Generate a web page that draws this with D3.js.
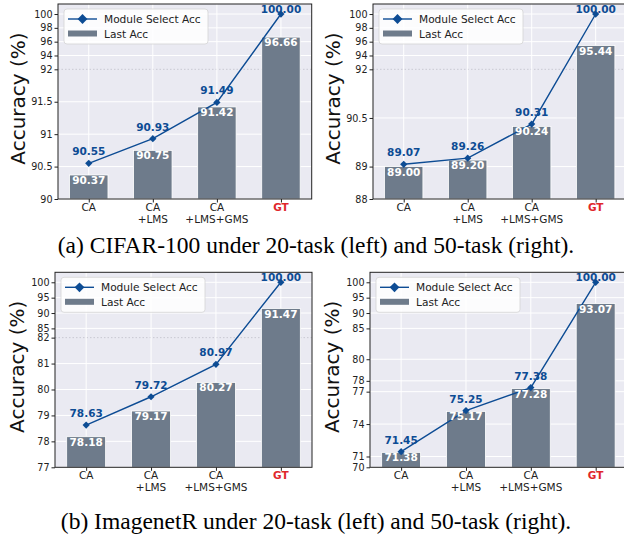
<!DOCTYPE html>
<html>
<head>
<meta charset="utf-8">
<script src="https://cdn.jsdelivr.net/npm/d3@7"></script>
<style>
  body { margin: 0; background: #fff; }
  text { font-family: "DejaVu Sans", sans-serif; }
</style>
</head>
<body>
<svg id="fig" width="624" height="537"></svg>
<script>
// categories shared by every panel
const categories = ["CA", "CA\n+LMS", "CA\n+LMS+GMS", "GT"];

// CIFAR-100, 20-task
const cifar20Select = [90.55, 90.93, 91.49, 100.00];
const cifar20Last = [90.37, 90.75, 91.42, 96.66];
const cifar20Ticks = [90, 90.5, 91, 91.5, 92, 94, 96, 98, 100];

// CIFAR-100, 50-task
const cifar50Select = [89.07, 89.26, 90.31, 100.00];
const cifar50Last = [89.00, 89.20, 90.24, 95.44];
const cifar50Ticks = [88, 89, 90.5, 92, 94, 96, 98, 100];

// ImagenetR, 20-task
const imr20Select = [78.63, 79.72, 80.97, 100.00];
const imr20Last = [78.18, 79.17, 80.27, 91.47];
const imr20Ticks = [77, 78, 79, 80, 81, 82, 85, 90, 95, 100];

// ImagenetR, 50-task
const imr50Select = [71.45, 75.25, 77.38, 100.00];
const imr50Last = [71.38, 75.17, 77.28, 93.07];
const imr50Ticks = [70, 71, 74, 77, 78, 80, 85, 90, 95, 100];

// y axis is split: [lo, brk] gets the lower 2/3, [brk, hi] the top third
const panels = [
  { select: cifar20Select, last: cifar20Last, ticks: cifar20Ticks, domain: [90, 92, 101.45],
    left: 58, right: 311.7, top: 4, bottom: 199, labelX: 18 },
  { select: cifar50Select, last: cifar50Last, ticks: cifar50Ticks, domain: [88, 92, 101.45],
    left: 373, right: 626.4, top: 4, bottom: 199, labelX: 333 },
  { select: imr20Select, last: imr20Last, ticks: imr20Ticks, domain: [77, 82, 103.25],
    left: 55, right: 312, top: 272.3, bottom: 467.3, labelX: 17 },
  { select: imr50Select, last: imr50Last, ticks: imr50Ticks, domain: [70, 82, 103.25],
    left: 370, right: 626.8, top: 272.3, bottom: 467.3, labelX: 332 }
];

const captions = [
  { text: "(a) CIFAR-100 under 20-task (left) and 50-task (right).", y: 253 },
  { text: "(b) ImagenetR under 20-task (left) and 50-task (right).", y: 529 }
];

const BG = "#eaeaf2";
const BAR = "#6e7b8b";
const LINE = "#0d4c94";
const GT_RED = "#e0262b";

const svg = d3.select("#fig");

panels.forEach((p, i) => drawPanel(p, i));

svg.selectAll("text.caption")
  .data(captions)
  .join("text")
  .attr("class", "caption")
  .attr("x", 316)
  .attr("y", d => d.y)
  .attr("text-anchor", "middle")
  .style("font-family", "'Liberation Serif', 'Times New Roman', serif")
  .style("font-size", "23.5px")
  .attr("fill", "#000")
  .text(d => d.text);

function diamond(size) {
  return d3.symbol().type(d3.symbolSquare).size(size)();
}

function drawPanel(p, idx) {
  const g = svg.append("g").attr("class", "panel" + idx);
  const clipId = "clip" + idx;
  g.append("clipPath").attr("id", clipId)
    .append("rect")
    .attr("x", p.left).attr("y", p.top)
    .attr("width", p.right - p.left).attr("height", p.bottom - p.top);

  const brkY = p.bottom - (p.bottom - p.top) * 0.665;
  const y = d3.scaleLinear()
    .domain(p.domain)
    .range([p.bottom, brkY, p.top]);

  const x = d3.scalePoint()
    .domain(categories)
    .range([p.left, p.right])
    .padding(0.48);
  const barW = x.step() * 0.6;

  const plot = g.append("g").attr("clip-path", `url(#${clipId})`);

  plot.append("rect")
    .attr("x", p.left).attr("y", p.top)
    .attr("width", p.right - p.left).attr("height", p.bottom - p.top)
    .attr("fill", BG);

  // horizontal grid (break line is dotted)
  plot.selectAll("line.hgrid")
    .data(p.ticks)
    .join("line")
    .attr("class", "hgrid")
    .attr("x1", p.left).attr("x2", p.right)
    .attr("y1", d => y(d)).attr("y2", d => y(d))
    .attr("stroke", d => d === p.domain[1] ? "#c9c9d2" : "#fff")
    .attr("stroke-width", 1)
    .attr("stroke-dasharray", d => d === p.domain[1] ? "1.5,2" : null);

  plot.selectAll("line.vgrid")
    .data(categories)
    .join("line")
    .attr("class", "vgrid")
    .attr("x1", d => x(d)).attr("x2", d => x(d))
    .attr("y1", p.top).attr("y2", p.bottom)
    .attr("stroke", "#fff")
    .attr("stroke-width", 1);

  // bars
  plot.selectAll("rect.bar")
    .data(p.last)
    .join("rect")
    .attr("class", "bar")
    .attr("x", (d, i) => x(categories[i]) - barW / 2)
    .attr("y", d => y(d))
    .attr("width", barW)
    .attr("height", d => p.bottom - y(d))
    .attr("fill", BAR)
    .attr("stroke", "#fff")
    .attr("stroke-width", 0.8);

  // module select line
  const line = d3.line()
    .x((d, i) => x(categories[i]))
    .y(d => y(d));

  plot.append("path")
    .datum(p.select)
    .attr("d", line)
    .attr("fill", "none")
    .attr("stroke", LINE)
    .attr("stroke-width", 1.4);

  plot.selectAll("path.marker")
    .data(p.select)
    .join("path")
    .attr("class", "marker")
    .attr("d", diamond(26))
    .attr("transform", (d, i) => `translate(${x(categories[i])},${y(d)}) rotate(45)`)
    .attr("fill", LINE);

  // labels on bars
  g.selectAll("text.barlab")
    .data(p.last)
    .join("text")
    .attr("class", "barlab")
    .attr("x", (d, i) => x(categories[i]))
    .attr("y", d => y(d) + 9)
    .attr("text-anchor", "middle")
    .attr("fill", "#fff")
    .style("font-size", "10.5px")
    .style("font-weight", "bold")
    .text(d => d.toFixed(2));

  // labels above line points
  g.selectAll("text.linelab")
    .data(p.select)
    .join("text")
    .attr("class", "linelab")
    .attr("x", (d, i) => x(categories[i]))
    .attr("y", d => Math.max(y(d) - 8, p.top + 9))
    .attr("text-anchor", "middle")
    .attr("fill", LINE)
    .style("font-size", "10.5px")
    .style("font-weight", "bold")
    .text(d => d.toFixed(2));

  // legend
  const lg = g.append("g").attr("transform", `translate(${p.left + 6},${p.top + 5})`);
  lg.append("rect")
    .attr("width", 144).attr("height", 35)
    .attr("rx", 3)
    .attr("fill", "#fff").attr("fill-opacity", 0.85)
    .attr("stroke", "#d4d4d4").attr("stroke-width", 0.8);
  lg.append("line")
    .attr("x1", 4).attr("x2", 33).attr("y1", 10).attr("y2", 10)
    .attr("stroke", LINE).attr("stroke-width", 1.4);
  lg.append("path")
    .attr("d", diamond(48))
    .attr("transform", "translate(18.5,10) rotate(45)")
    .attr("fill", LINE);
  lg.append("rect")
    .attr("x", 4).attr("y", 21.5).attr("width", 29).attr("height", 6)
    .attr("fill", BAR);
  lg.append("text").attr("x", 40).attr("y", 14)
    .style("font-size", "10.6px").attr("fill", "#222").text("Module Select Acc");
  lg.append("text").attr("x", 40).attr("y", 29)
    .style("font-size", "10.6px").attr("fill", "#222").text("Last Acc");

  // frame
  g.append("rect")
    .attr("x", p.left).attr("y", p.top)
    .attr("width", p.right - p.left).attr("height", p.bottom - p.top)
    .attr("fill", "none")
    .attr("stroke", "#222").attr("stroke-width", 1);

  // y axis
  const yAxis = g.append("g")
    .attr("transform", `translate(${p.left},0)`)
    .call(d3.axisLeft(y).tickValues(p.ticks).tickSize(3.5).tickPadding(2).tickFormat(d => String(d)));
  yAxis.select(".domain").remove();
  yAxis.selectAll(".tick line").attr("stroke", "#222");
  yAxis.selectAll(".tick text")
    .style("font-size", "9.6px")
    .style("font-family", "'DejaVu Sans', sans-serif")
    .attr("fill", "#222");

  // x axis
  const xAxis = g.append("g")
    .attr("transform", `translate(0,${p.bottom})`)
    .call(d3.axisBottom(x).tickSize(3.5).tickFormat(""));
  xAxis.select(".domain").remove();
  xAxis.selectAll(".tick line").attr("stroke", "#222");

  const xl = g.selectAll("text.xlab")
    .data(categories)
    .join("text")
    .attr("class", "xlab")
    .attr("x", d => x(d))
    .attr("y", p.bottom + 12)
    .attr("text-anchor", "middle")
    .style("font-size", "10.5px")
    .style("font-weight", d => d === "GT" ? "bold" : "normal")
    .attr("fill", d => d === "GT" ? GT_RED : "#222");
  xl.selectAll("tspan")
    .data(d => d.split("\n"))
    .join("tspan")
    .attr("x", function () { return this.parentNode.getAttribute("x"); })
    .attr("dy", (d, i) => i === 0 ? 0 : 12)
    .text(d => d);

  // y label
  g.append("text")
    .attr("transform", `translate(${p.labelX},${(p.top + p.bottom) / 2 - 3}) rotate(-90)`)
    .attr("text-anchor", "middle")
    .attr("dominant-baseline", "central")
    .style("font-size", "20px")
    .attr("fill", "#111")
    .text("Accuracy (%)");
}
</script>
</body>
</html>
